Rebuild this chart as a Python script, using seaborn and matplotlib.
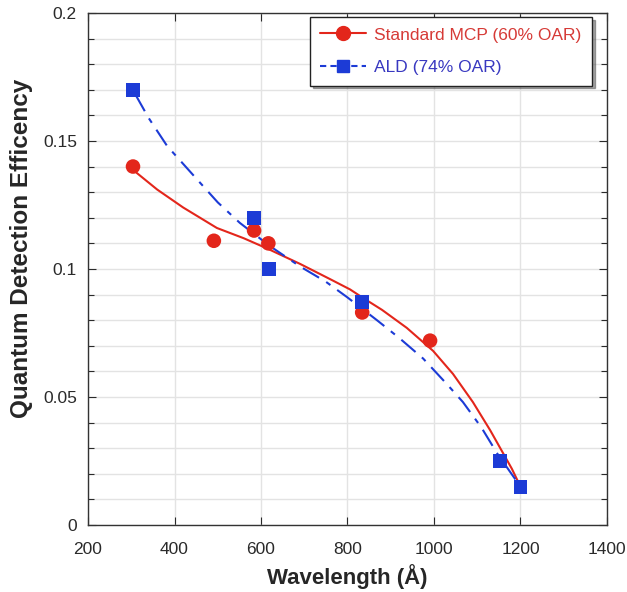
import matplotlib
matplotlib.use("Agg")
import matplotlib.pyplot as plt
from matplotlib.lines import Line2D
from matplotlib.ticker import MultipleLocator, FuncFormatter
import seaborn as sns
import pandas as pd

# Measured points
mcp_wl = [304, 491, 584, 617, 834, 991]
mcp_qde = [0.140, 0.111, 0.115, 0.110, 0.083, 0.072]
ald_wl = [304, 584, 618, 834, 1152, 1200]
ald_qde = [0.170, 0.120, 0.100, 0.087, 0.025, 0.015]

# Fit curves
mcp_fit_wl = [309, 360, 420, 498, 560, 614, 690, 760, 806, 833, 880, 937, 998, 1044, 1090, 1130, 1160, 1180, 1200]
mcp_fit_qde = [0.138, 0.131, 0.124, 0.116, 0.112, 0.108, 0.102, 0.096, 0.092, 0.089, 0.084, 0.077, 0.068, 0.059, 0.048, 0.037, 0.028, 0.022, 0.015]
ald_fit_wl = [310, 340, 383, 452, 500, 551, 620, 690, 750, 799, 868, 920, 975, 1030, 1067, 1110, 1146, 1175, 1200]
ald_fit_qde = [0.168, 0.159, 0.148, 0.135, 0.126, 0.118, 0.109, 0.101, 0.095, 0.089, 0.080, 0.073, 0.065, 0.055, 0.048, 0.038, 0.028, 0.021, 0.015]

red = "#e3261b"
blue = "#1c3bd6"

sns.set_style("white")
plt.rcParams["font.family"] = ["Liberation Sans", "DejaVu Sans"]

fig = plt.figure(figsize=(6.27, 5.92), dpi=100)
ax = fig.add_axes([0.1404, 0.1132, 0.8276, 0.865])

sns.lineplot(x=mcp_fit_wl, y=mcp_fit_qde, ax=ax, color=red, linewidth=1.5, sort=False)
sns.lineplot(x=ald_fit_wl, y=ald_fit_qde, ax=ax, color=blue, linewidth=1.5, sort=False,
             dashes=False)
ax.lines[-1].set_dashes([9, 4, 2.5, 4])
sns.scatterplot(x=mcp_wl, y=mcp_qde, ax=ax, color=red, marker="o", s=110, edgecolor="none", zorder=5)
sns.scatterplot(x=ald_wl, y=ald_qde, ax=ax, color=blue, marker="s", s=100, edgecolor="none", zorder=5)

ax.set_xlim(200, 1400)
ax.set_ylim(0, 0.2)
ax.xaxis.set_major_locator(MultipleLocator(200))
ax.yaxis.set_major_locator(MultipleLocator(0.05))
ax.yaxis.set_minor_locator(MultipleLocator(0.01))
ax.yaxis.set_major_formatter(FuncFormatter(lambda v, p: "%g" % round(v, 3)))
ax.grid(True, axis="x", which="major", color="#e3e3e3", linewidth=1)
ax.grid(True, axis="y", which="both", color="#e3e3e3", linewidth=1)
ax.set_axisbelow(True)
ax.tick_params(which="both", direction="in", top=True, right=True, left=True, bottom=True,
               labelsize=12.5, colors="#2a2a2a", width=0.8)
ax.tick_params(which="major", length=6)
ax.tick_params(which="minor", length=4)
ax.tick_params(axis="x", pad=12)
ax.tick_params(axis="y", pad=8)
for s in ax.spines.values():
    s.set_color("#333333")
    s.set_linewidth(1)

ax.set_xlabel("Wavelength (Å)", fontsize=16, fontweight="bold", labelpad=5)
ax.set_ylabel("Quantum Detection Efficency", fontsize=17.5, fontweight="bold")
ax.yaxis.set_label_coords(-0.106, 0.54)

handles = [
    Line2D([], [], color=red, marker="o", markersize=10, linewidth=1.5),
    Line2D([], [], color=blue, marker="s", markersize=9, linewidth=1.5, dashes=[3, 2]),
]
leg = ax.legend(handles, ["Standard MCP (60% OAR)", "ALD (74% OAR)"], loc="upper right",
                bbox_to_anchor=(0.971, 0.992), borderaxespad=0, fontsize=12.5, frameon=True,
                fancybox=False, shadow=True, edgecolor="#222222", borderpad=0.6,
                handlelength=2.6, handletextpad=0.5, labelspacing=1.0)
leg.get_frame().set_linewidth(1)
for t, c in zip(leg.get_texts(), ["#d63a36", "#3838c0"]):
    t.set_color(c)

fig.savefig("out.png", dpi=100)
